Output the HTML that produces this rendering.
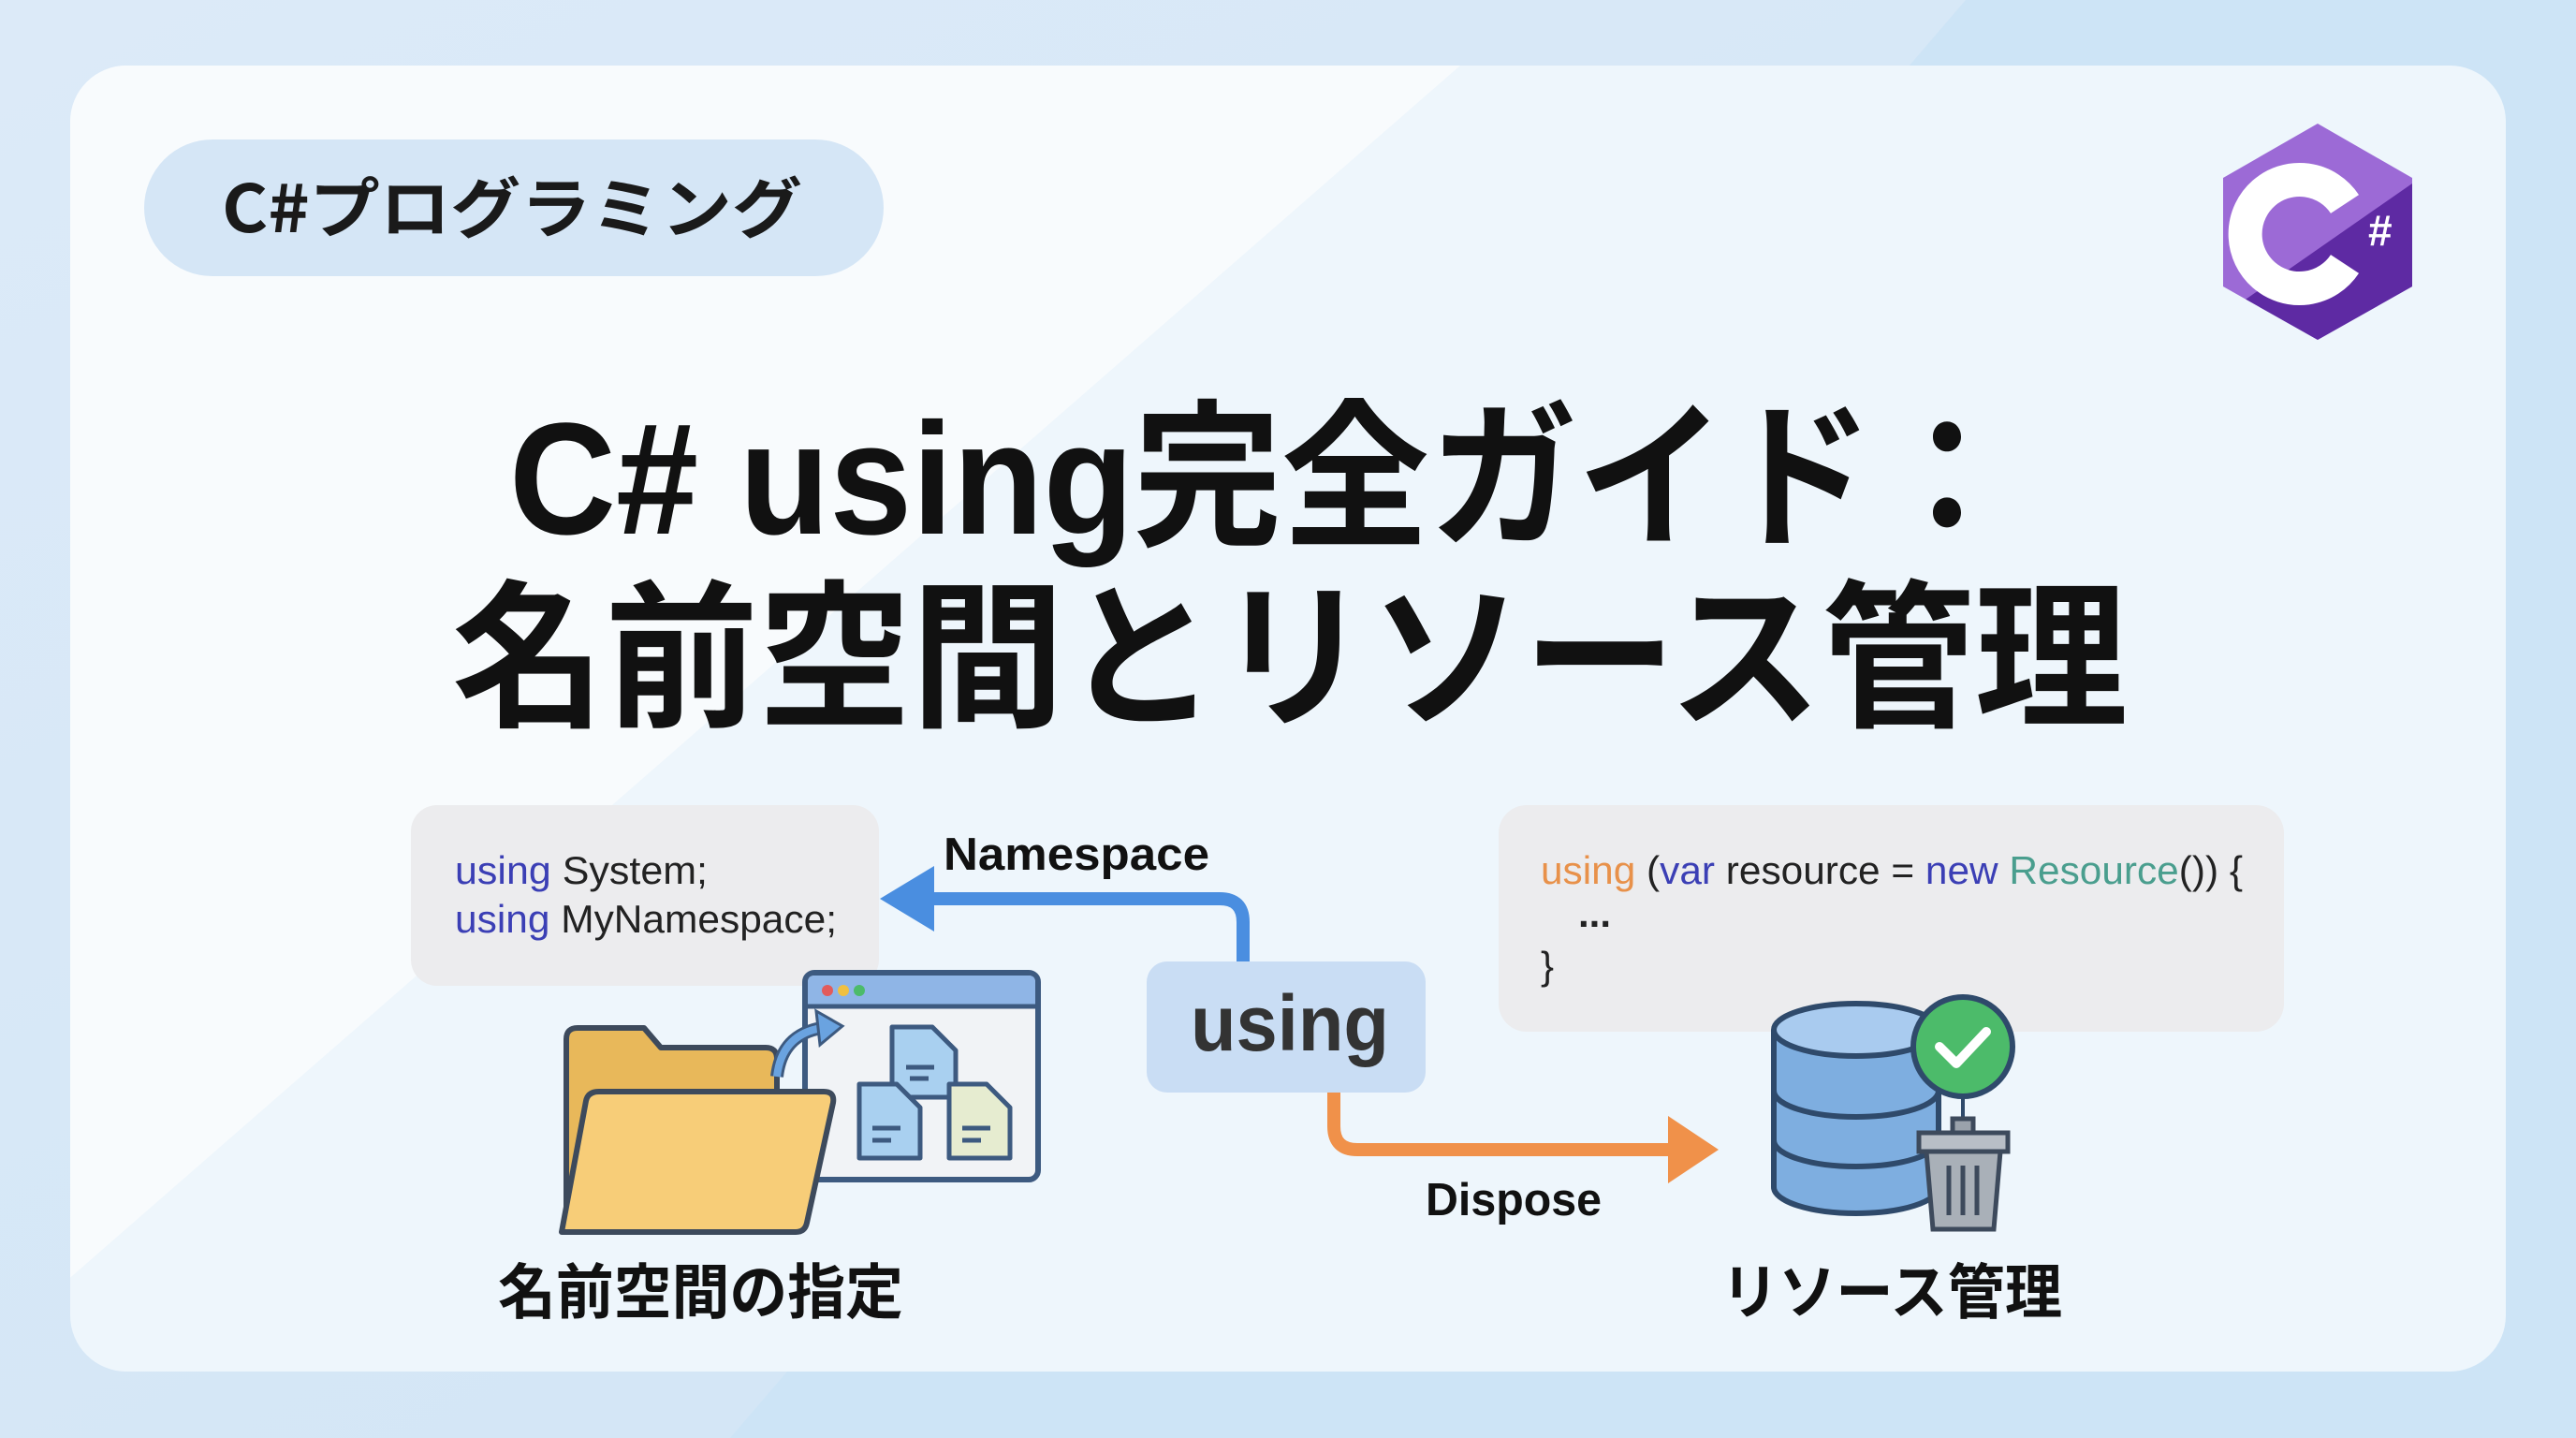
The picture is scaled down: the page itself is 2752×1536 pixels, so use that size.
<!DOCTYPE html>
<html><head><meta charset="utf-8"><style>
html,body{margin:0;padding:0;width:2752px;height:1536px;overflow:hidden;}
svg{display:block}
text{font-family:"Liberation Sans","Noto Sans CJK JP",sans-serif;}
.cj{font-family:"Noto Sans CJK JP","Liberation Sans",sans-serif;}
</style></head><body>
<svg width="2752" height="1536" viewBox="0 0 2752 1536" xmlns="http://www.w3.org/2000/svg">
<defs>
<linearGradient id="bg" x1="0" y1="0" x2="1" y2="1">
<stop offset="0" stop-color="#dceaf8"/><stop offset="1" stop-color="#cfe4f5"/>
</linearGradient>
<clipPath id="card"><rect x="75" y="70" width="2602" height="1395" rx="60"/></clipPath>
<clipPath id="hex"><polygon points="2476,132 2577,190 2577,306 2476,363 2375,306 2375,190"/></clipPath>
</defs>
<rect width="2752" height="1536" fill="url(#bg)"/>
<polygon points="2100,0 2752,0 2752,1536 780,1536" fill="#cde4f6"/>
<g clip-path="url(#card)">
<rect x="75" y="70" width="2602" height="1395" fill="#eef6fc"/>
<polygon points="75,70 1560,70 -40,1465 75,1465" fill="#f8fbfd"/>
</g>
<rect x="154" y="149" width="790" height="146" rx="73" fill="#d5e6f6"/>
<text x="237" y="248" font-size="70" font-weight="700" fill="#1a1a1a" class="cj" textLength="620" lengthAdjust="spacingAndGlyphs">C#プログラミング</text>
<g clip-path="url(#hex)">
<rect x="2370" y="130" width="212" height="236" fill="#9c6ad6"/>
<polygon points="2370,340 2600,180 2600,370 2370,370" fill="#5e2aa3"/>
</g>
<path d="M2505,218 A58,58 0 1 0 2505,282" fill="none" stroke="#fff" stroke-width="36"/>
<text x="2530" y="262" font-size="46" font-weight="700" fill="#fff">#</text>
<text x="544" y="570" font-size="170" font-weight="700" fill="#111" textLength="1615" lengthAdjust="spacingAndGlyphs">C# using完全ガイド：</text>
<text x="483" y="763" font-size="170" font-weight="700" fill="#111" class="cj" textLength="1790" lengthAdjust="spacingAndGlyphs">名前空間とリソース管理</text>
<rect x="439" y="860" width="500" height="193" rx="28" fill="#ececee"/>
<text x="486" y="944" font-size="42" fill="#222" textLength="270" lengthAdjust="spacingAndGlyphs"><tspan fill="#3b3fb5">using</tspan> System;</text>
<text x="486" y="996" font-size="42" fill="#222" textLength="408" lengthAdjust="spacingAndGlyphs"><tspan fill="#3b3fb5">using</tspan> MyNamespace;</text>
<rect x="1601" y="860" width="839" height="242" rx="30" fill="#ececee"/>
<text x="1646" y="944" font-size="42" fill="#222" textLength="750" lengthAdjust="spacingAndGlyphs"><tspan fill="#e8914a">using</tspan> (<tspan fill="#3b3fb5">var</tspan> resource = <tspan fill="#3b3fb5">new</tspan> <tspan fill="#4a9e8e">Resource</tspan>()) {</text>
<text x="1686" y="990" font-size="42" font-weight="700" fill="#222">...</text>
<text x="1646" y="1046" font-size="42" fill="#222">}</text>
<path d="M1328 1027 V985 Q1328 960 1303 960 H985" fill="none" stroke="#4a8ee0" stroke-width="14"/>
<polygon points="940,960 998,925 998,995" fill="#4a8ee0"/>
<path d="M1425 1167 V1203 Q1425 1228 1450 1228 H1790" fill="none" stroke="#f0914a" stroke-width="14"/>
<polygon points="1836,1228 1782,1192 1782,1264" fill="#f0914a"/>
<text x="1008" y="929" font-size="49" font-weight="700" fill="#111" textLength="284" lengthAdjust="spacingAndGlyphs">Namespace</text>
<text x="1523" y="1298" font-size="49" font-weight="700" fill="#111" textLength="188" lengthAdjust="spacingAndGlyphs">Dispose</text>
<rect x="1225" y="1027" width="298" height="140" rx="22" fill="#c9ddf4"/>
<text x="1272" y="1122" font-size="84" font-weight="700" fill="#333" textLength="212" lengthAdjust="spacingAndGlyphs">using</text>
<rect x="860" y="1039" width="249" height="221" rx="10" fill="#f1f3f6" stroke="#3d5a80" stroke-width="6"/>
<path d="M863 1075 V1049 Q863 1042 870 1042 H1099 Q1106 1042 1106 1049 V1075 Z" fill="#8fb5e6"/>
<line x1="863" y1="1075" x2="1106" y2="1075" stroke="#3d5a80" stroke-width="5"/>
<circle cx="884" cy="1058" r="6" fill="#e25b5b"/><circle cx="901" cy="1058" r="6" fill="#f0c040"/><circle cx="918" cy="1058" r="6" fill="#4cbb6a"/>
<g stroke="#3d5a80" stroke-width="5" fill="#a9d0f0" stroke-linejoin="round">
<path d="M953 1097 H996 L1021 1122 V1172 H953 Z"/>
<path d="M918 1158 H958 L983 1183 V1237 H918 Z"/>
<path d="M1014 1158 H1054 L1079 1183 V1237 H1014 Z" fill="#e6ecd0"/>
</g>
<g stroke="#3d5a80" stroke-width="5"><line x1="968" y1="1140" x2="998" y2="1140"/><line x1="972" y1="1152" x2="992" y2="1152"/><line x1="932" y1="1205" x2="962" y2="1205"/><line x1="932" y1="1218" x2="952" y2="1218"/><line x1="1028" y1="1205" x2="1058" y2="1205"/><line x1="1028" y1="1218" x2="1048" y2="1218"/></g>
<path d="M605 1110 Q605 1098 617 1098 H688 L706 1119 H818 Q830 1119 830 1131 V1316 H605 Z" fill="#e8b85a" stroke="#3d4a5c" stroke-width="6" stroke-linejoin="round"/>
<path d="M600 1316 L626 1176 Q628 1166 640 1166 H880 Q892 1166 890 1178 L862 1306 Q860 1316 850 1316 Z" fill="#f7cd78" stroke="#3d4a5c" stroke-width="6" stroke-linejoin="round"/>
<path d="M830 1150 Q835 1105 878 1098" fill="none" stroke="#3d5a80" stroke-width="14"/>
<path d="M830 1150 Q835 1105 878 1098" fill="none" stroke="#6aa3e0" stroke-width="8"/>
<polygon points="900,1096 872,1080 876,1116" fill="#6aa3e0" stroke="#3d5a80" stroke-width="3"/>
<text x="532" y="1403" font-size="64" font-weight="700" fill="#111" class="cj" textLength="433" lengthAdjust="spacingAndGlyphs">名前空間の指定</text>
<g stroke="#2f4a6b" stroke-width="6" fill="#7eaee0">
<path d="M1895 1100 V1268 A88 28 0 0 0 2071 1268 V1100"/>
<path d="M1895 1165 A88 28 0 0 0 2071 1165" fill="none"/>
<path d="M1895 1218 A88 28 0 0 0 2071 1218" fill="none"/>
<ellipse cx="1983" cy="1100" rx="88" ry="28" fill="#a9cbef"/>
</g>
<circle cx="2097" cy="1118" r="53" fill="#4cbb6a" stroke="#2f4a6b" stroke-width="6"/>
<path d="M2072 1118 L2090 1136 L2122 1102" fill="none" stroke="#fff" stroke-width="10" stroke-linecap="round" stroke-linejoin="round"/>
<line x1="2097" y1="1171" x2="2097" y2="1196" stroke="#2f4a6b" stroke-width="4"/>
<g stroke="#3d4a5c" stroke-width="5">
<rect x="2086" y="1195" width="22" height="16" fill="#9aa2ab"/>
<rect x="2050" y="1210" width="95" height="20" fill="#b8bec6"/>
<path d="M2058 1230 H2137 L2130 1313 H2065 Z" fill="#a9b0b8"/>
<line x1="2082" y1="1245" x2="2082" y2="1298"/><line x1="2097" y1="1245" x2="2097" y2="1298"/><line x1="2112" y1="1245" x2="2112" y2="1298"/>
</g>
<text x="1839" y="1403" font-size="64" font-weight="700" fill="#111" class="cj" textLength="364" lengthAdjust="spacingAndGlyphs">リソース管理</text>
</svg>
</body></html>
